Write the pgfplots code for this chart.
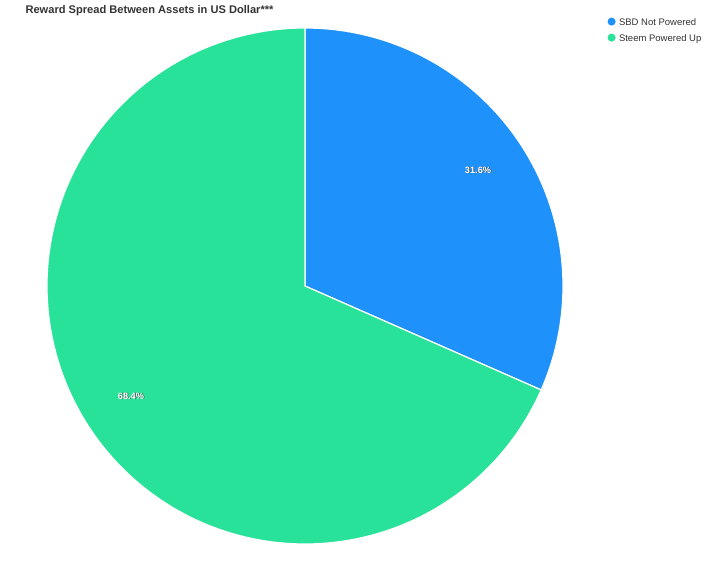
\documentclass[border=0pt]{standalone}
\usepackage{pgfplots}
\usepackage{pgfplotstable}
\pgfplotsset{compat=1.18}
\usepackage{fontspec}
\setmainfont{Liberation Sans}
\definecolor{cblue}{RGB}{30,146,250}
\definecolor{cgreen}{RGB}{41,226,154}
\definecolor{ctext}{RGB}{51,51,51}
\pgfplotstableread{
label value
SBD 31.6
Steem 68.4
}\piedata
\pgfplotstablegetelem{0}{value}\of\piedata
\let\va\pgfplotsretval
\pgfplotstablegetelem{1}{value}\of\piedata
\let\vb\pgfplotsretval
\pgfmathsetmacro{\aend}{90-3.6*\va}
\pgfmathsetmacro{\bend}{\aend-3.6*\vb}
\begin{document}
\begin{tikzpicture}
\begin{axis}[
  scale only axis, width=719pt, height=567pt,
  xmin=0, xmax=719, ymin=0, ymax=567,
  hide axis, clip=false,
  legend style={draw=none, at={(axis cs:606,551)}, anchor=north west,
    font=\fontsize{9.5}{11}\selectfont\color{ctext}, row sep=3pt,
    inner sep=0pt, /tikz/every even column/.style={column sep=1pt}},
  legend cell align=left,
  legend image code/.code={\fill (0.15cm,0.05cm) circle (4.8pt);},
]
\addplot[draw=none, forget plot] coordinates {(0,0) (719,567)};
\addplot[fill=cblue, draw=white, line width=1.2pt, domain=90:\aend, samples=150]
  ({305+258*cos(x)},{281+258*sin(x)}) -- (axis cs:305,281) -- cycle;
\addlegendentry{SBD Not Powered}
\addplot[fill=cgreen, draw=white, line width=1.2pt, domain=\aend:\bend, samples=250]
  ({305+258*cos(x)},{281+258*sin(x)}) -- (axis cs:305,281) -- cycle;
\addlegendentry{Steem Powered Up}
\node[font=\bfseries\fontsize{9.2}{11}\selectfont, text=black!70] at (axis cs:478.8,396.2) {31.6\%};
\node[font=\bfseries\fontsize{9.2}{11}\selectfont, text=white] at (axis cs:478,397) {31.6\%};
\node[font=\bfseries\fontsize{9.2}{11}\selectfont, text=black!70] at (axis cs:131.8,170.2) {68.4\%};
\node[font=\bfseries\fontsize{9.2}{11}\selectfont, text=white] at (axis cs:131,171) {68.4\%};
\node[font=\bfseries\fontsize{11.1}{13}\selectfont, text=ctext, anchor=west] at (axis cs:22,556) {Reward Spread Between Assets in US Dollar***};
\end{axis}
\end{tikzpicture}
\end{document}
